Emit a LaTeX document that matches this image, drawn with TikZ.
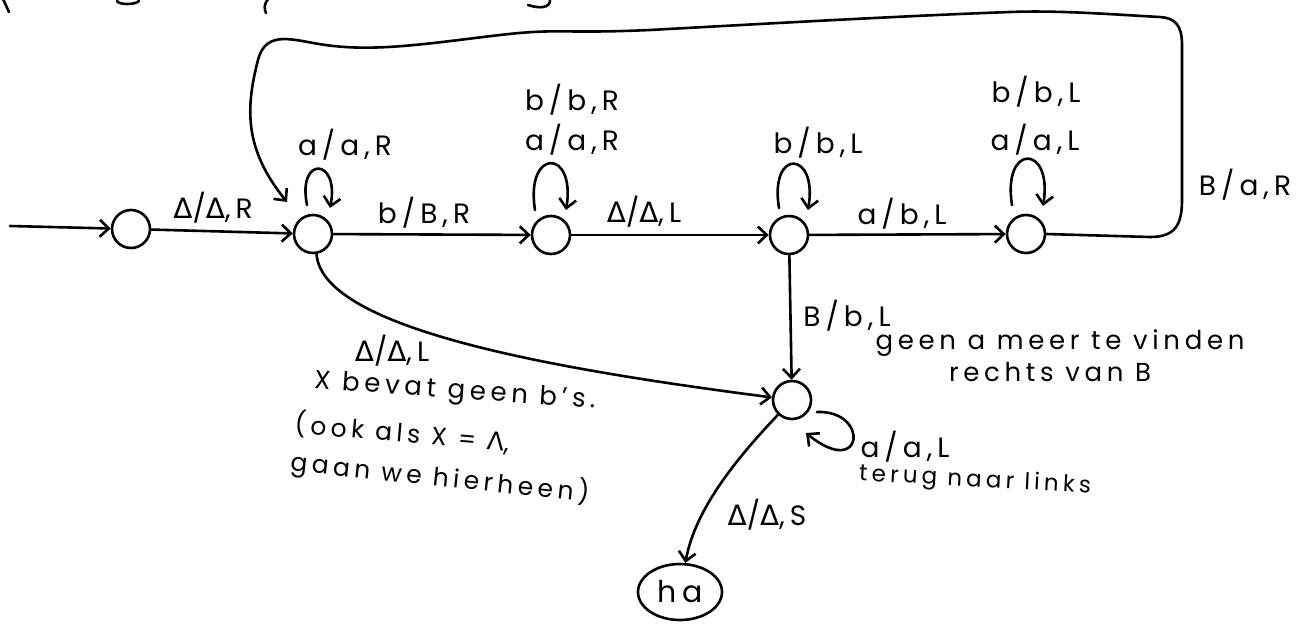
\documentclass[tikz,border=0pt]{standalone}
\usepackage{fontspec}
\setmainfont{Poppins}[LetterSpace=18]
\newfontfamily\gk{DejaVu Sans}
\usetikzlibrary{arrows.meta,calc,shapes.geometric}
\newcommand\D{{\gk Δ}}
\newcommand\selfloop[6]{% node, start offset, end offset, height
  \draw[arr] ($(#1)+(#2,#3)$) .. controls ($(#1)+(#2-10,#3+#6)$) and ($(#1)+(#4+10,#5+#6)$) .. ($(#1)+(#4,#5)$);}
\tikzset{
  ink/.style={line width=2.6pt, line cap=round, line join=round},
  arr/.style={ink, -{Straight Barb[length=9pt,width=17pt]}},
  state/.style={ink, draw, circle, minimum size=38pt, inner sep=0pt},
  halt/.style={ink, draw, ellipse, minimum width=84pt, minimum height=56pt, inner sep=0pt, font=\fontsize{30}{30}\selectfont},
  lbl/.style={inner sep=0pt, font=\fontsize{28}{32}\selectfont},
  note/.style={inner sep=0pt, font=\fontsize{26}{30}\selectfont},
}
\begin{document}
\begin{tikzpicture}[x=1pt,y=1pt]
\useasboundingbox (0,0) rectangle (1305,-627);

% states
\node[state] (q0) at (131,-229) {};
\node[state] (q1) at (313,-234) {};
\node[state] (q2) at (551,-235) {};
\node[state] (q3) at (789,-235) {};
\node[state] (q4) at (1026,-234) {};
\node[state] (q5) at (792,-400) {};
\node[halt]  (ha) at (680,-592) {ha};

% start arrow
\coordinate (start) at (10,-226);
\draw[arr] (start) -- (q0);

% main row
\draw[arr] (q0) -- (q1);
\draw[arr] (q1) -- (q2);
\draw[arr] (q2) -- (q3);
\draw[arr] (q3) -- (q4);

% self loops on the main row
\selfloop{q1}{-6}{29}{17}{26}{50}
\selfloop{q2}{-16}{25}{15}{25}{62}
\selfloop{q3}{-10}{27}{19}{25}{60}
\selfloop{q4}{-14}{29}{17}{28}{62}

% return path from q4 back to q1
\coordinate (back) at (287,-202);
\draw[arr] (q4.east) -- (1150,-237) .. controls (1175,-237) and (1182,-225) .. (1182,-200)
  -- (1182,-45) .. controls (1182,-25) and (1175,-18) .. (1160,-17)
  .. controls (1120,-15) and (1060,-10) .. (1010,-12)
  .. controls (900,-16) and (760,-24) .. (650,-30)
  .. controls (560,-34) and (560,-28) .. (500,-35)
  .. controls (440,-42) and (390,-50) .. (345,-47)
  .. controls (315,-45) and (305,-40) .. (285,-39)
  .. controls (270,-39) and (262,-45) .. (258,-60)
  .. controls (245,-110) and (245,-150) .. (back);

% down to q5
\draw[arr] (q3) -- (q5);
\draw[arr] (q1.-80) .. controls (322,-330) and (560,-370) .. (q5);
\draw[arr] ($(q5)+(25,-12)$) .. controls ($(q5)+(78,-10)$) and ($(q5)+(72,-80)$) .. ($(q5)+(14,-33)$);
\draw[arr] (q5) .. controls (735,-460) and (695,-510) .. (ha);

% transition labels
\node[lbl] (t01) at (213,-208) {\D/\D,R};
\node[lbl] (t11) at (345,-145) {a/a,R};
\node[lbl] (t12) at (424,-213) {b/B,R};
\node[lbl] (t22b) at (572,-100) {b/b,R};
\node[lbl] (t22a) at (572,-140) {a/a,R};
\node[lbl] (t23) at (644,-212) {\D/\D,L};
\node[lbl] (t33) at (818,-143) {b/b,L};
\node[lbl] (t34) at (902,-214) {a/b,L};
\node[lbl] (t44b) at (1036,-92) {b/b,L};
\node[lbl] (t44a) at (1035,-140) {a/a,L};
\node[lbl] (t41) at (1245,-185) {B/a,R};
\node[lbl] (t35) at (847,-316) {B/b,L};
\node[note] (n35a) at (1060,-343) {geen a meer te vinden};
\node[note] (n35b) at (1050,-372) {rechts van B};
\node[lbl] (t15) at (392,-351) {\D/\D,L};
\node[note, rotate=-4] (n15a) at (455,-392) {X bevat geen b's.};
\node[note, font=\fontsize{25}{29}\selectfont, rotate=-5] (n15b) at (402,-433) {(ook als X = {\gk Λ},};
\node[note, font=\fontsize{25}{29}\selectfont, rotate=-6] (n15c) at (440,-478) {gaan we hierheen)};
\node[lbl] (t55) at (905,-447) {a/a,L};
\node[note, font=\fontsize{23}{27}\selectfont, rotate=-3] (n55) at (975,-481) {terug naar links};
\node[lbl] (t5h) at (767,-515) {\D/\D,S};

% remains of writing cut off at the top edge
\draw[ink] (3,1) -- (9,-12);
\draw[ink] (117,-1) .. controls (119,-5) and (135,-5) .. (139,-1);
\draw[ink] (268,1) .. controls (264,-4) and (264,-9) .. (266,-13);
\draw[ink] (550,1) .. controls (551,-8) and (540,-9) .. (528,-5);
\end{tikzpicture}
\end{document}
